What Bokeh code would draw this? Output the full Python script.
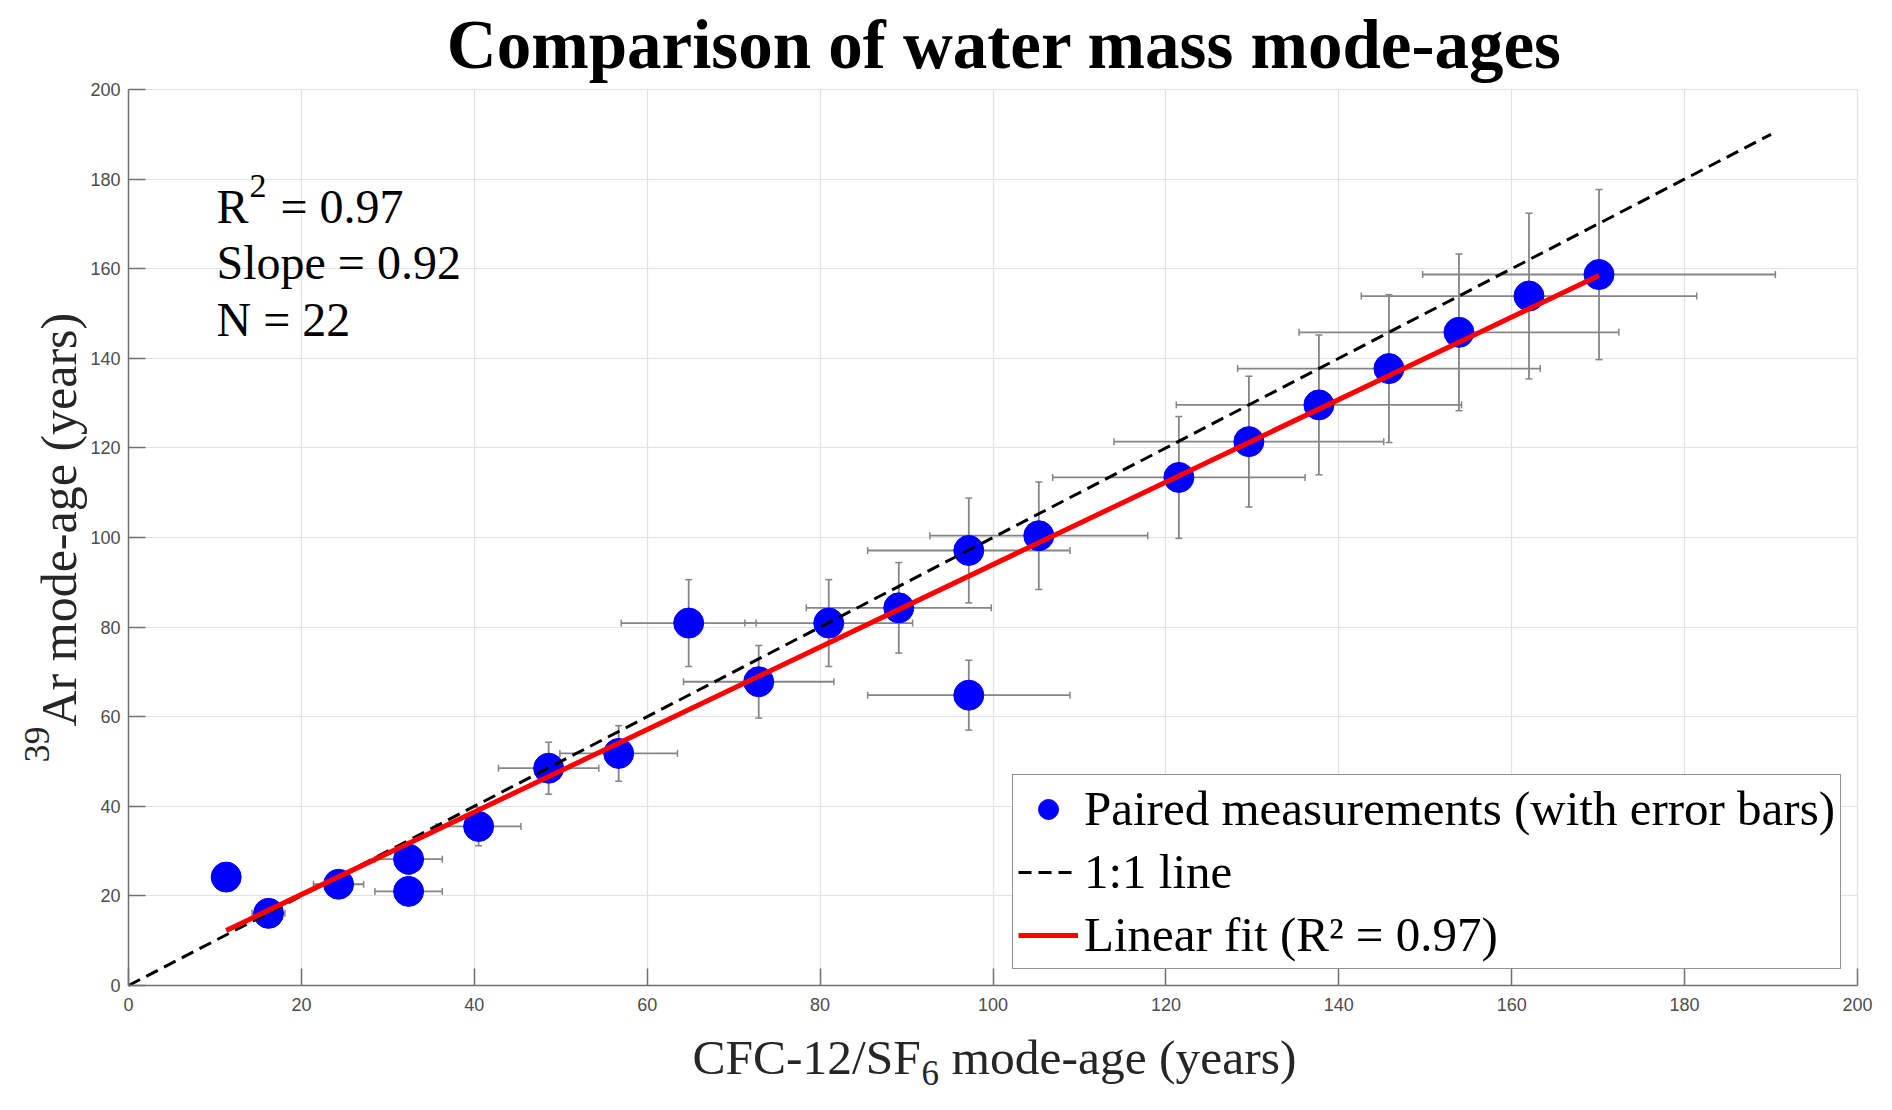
import math
from bokeh.plotting import figure
from bokeh.models import (ColumnDataSource, Range1d, FixedTicker, Whisker, TeeHead,
                          Label, Legend, LegendItem)
from bokeh.embed import file_html
from bokeh.resources import INLINE

# CFC-12/SF6 mode-age (years) and its error
cfc_age = [11.3, 16.2, 24.3, 32.4, 32.4, 40.5, 48.6, 56.7, 64.8, 72.9, 81.0,
           89.1, 97.2, 97.2, 105.3, 121.5, 129.6, 137.7, 145.8, 153.9, 162.0, 170.1]
cfc_err = [1.4, 1.9, 2.9, 3.9, 3.9, 4.9, 5.8, 6.8, 7.8, 8.7, 9.7,
           10.7, 11.7, 11.7, 12.6, 14.6, 15.6, 16.5, 17.5, 18.5, 19.4, 20.4]
# 39Ar mode-age (years) and its error
ar_age = [24.2, 16.1, 22.6, 28.2, 21.0, 35.5, 48.5, 51.8, 80.9, 67.8, 80.9,
          84.3, 97.1, 64.8, 100.4, 113.4, 121.4, 129.6, 137.7, 145.8, 153.9, 158.7]
ar_err = [2.9, 1.9, 2.7, 3.4, 2.5, 4.3, 5.8, 6.2, 9.7, 8.1, 9.7,
          10.1, 11.7, 7.8, 12.0, 13.6, 14.6, 15.6, 16.5, 17.5, 18.5, 19.0]

one_to_one = [0, 190]
fit_x = [11.3, 170.1]
fit_y = [12.3, 158.5]
r_squared = "0.97"
slope = "0.92"
n_points = "22"
ticks = [0, 20, 40, 60, 80, 100, 120, 140, 160, 180, 200]

W, H = 1876, 1094
# where the 0..200 box sits on the canvas (pixels); the frame is the whole canvas
AL, AR, AT, AB = 128, 1857, 89, 985
sx = (AR - AL) / 200.0
sy = (AB - AT) / 200.0


def xd(px):
    return (px - AL) / sx


def yd(py):
    return (AB - py) / sy


src = ColumnDataSource(dict(
    x=cfc_age, y=ar_age,
    xl=[a - e for a, e in zip(cfc_age, cfc_err)],
    xu=[a + e for a, e in zip(cfc_age, cfc_err)],
    yl=[a - e for a, e in zip(ar_age, ar_err)],
    yu=[a + e for a, e in zip(ar_age, ar_err)],
))

p = figure(width=W, height=H,
           x_range=Range1d(xd(0), xd(W)), y_range=Range1d(yd(H), yd(0)),
           output_backend="svg", toolbar_location=None,
           min_border_left=0, min_border_right=0, min_border_top=0, min_border_bottom=0)
p.outline_line_color = None

for ax in (p.xaxis, p.yaxis):
    ax.ticker = FixedTicker(ticks=ticks)
    ax.fixed_location = 0
    ax.bounds = (0, 200)
    ax.axis_line_color = "#707070"
    ax.axis_line_width = 1.5
    ax.major_tick_line_color = "#707070"
    ax.major_tick_line_width = 1.5
    ax.major_tick_in = 17
    ax.major_tick_out = 0
    ax.minor_tick_line_color = None
    ax.major_label_text_font = "Liberation Sans"
    ax.major_label_text_font_size = "18px"
    ax.major_label_text_color = "#4d4d4d"
p.xaxis.major_label_standoff = 12
p.yaxis.major_label_standoff = 8

p.grid.grid_line_color = "#e2e2e2"
p.grid.grid_line_width = 1.2
for g in (p.xgrid, p.ygrid):
    g.bounds = (0, 200)
    g.cross_bounds = (0, 200)

err_col = "#858585"
p.add_layout(Whisker(source=src, base="x", lower="yl", upper="yu", dimension="height",
                     line_color=err_col, line_width=1.8,
                     upper_head=TeeHead(size=7, line_color=err_col, line_width=1.5),
                     lower_head=TeeHead(size=7, line_color=err_col, line_width=1.5)))
p.add_layout(Whisker(source=src, base="y", lower="xl", upper="xu", dimension="width",
                     line_color=err_col, line_width=1.8,
                     upper_head=TeeHead(size=7, line_color=err_col, line_width=1.5),
                     lower_head=TeeHead(size=7, line_color=err_col, line_width=1.5)))

sc = p.scatter("x", "y", source=src, size=30, fill_color="#0000ff", line_color="#0000ff")
d = p.line(one_to_one, one_to_one, line_color="black", line_width=3, line_dash="13 7")
f = p.line(fit_x, fit_y, line_color="#ff0000", line_width=5)

leg = Legend(items=[
    LegendItem(label="Paired measurements (with error bars)", renderers=[sc]),
    LegendItem(label="1:1 line", renderers=[d]),
    LegendItem(label="Linear fit (R\u00b2 = " + r_squared + ")", renderers=[f]),
], location=(1012, H - 969))
leg.label_text_font = "Liberation Serif"
leg.label_text_font_size = "49px"
leg.label_text_color = "black"
leg.glyph_width = 60
leg.glyph_height = 50
leg.label_height = 50
leg.label_standoff = 6
leg.padding = 5
leg.spacing = 6
leg.margin = 0
leg.border_line_color = "#262626"
leg.border_line_width = 1.2
p.add_layout(leg)


def txt(s, px, py, size, bold=False, align="left", angle=0.0, color="black"):
    # bokeh sets the alphabetic anchor about a third of an em low; compensate
    k = 0.34 * size
    if angle == 0.0:
        py -= k
    else:
        px -= k
    p.add_layout(Label(x=xd(px), y=yd(py), text=s, text_font="Liberation Serif",
                       text_font_size=f"{size}px",
                       text_font_style="bold" if bold else "normal",
                       text_align=align, text_baseline="alphabetic",
                       angle=angle, text_color=color))


txt("Comparison of water mass mode-ages", 1004, 68, 69, bold=True, align="center")

txt("R", 216, 222, 48)
txt("2", 249, 197, 34)
txt("= " + r_squared, 280, 222, 48)
txt("Slope = " + slope, 216, 278, 48)
txt("N = " + n_points, 216, 335, 48)

lab = "#262626"
txt("CFC-12/SF", 692, 1074, 49.5, color=lab)
txt("6", 921, 1084, 35, color=lab)
txt("mode-age (years)", 951, 1074, 49.5, color=lab)

txt("39", 49, 762, 36, angle=math.pi / 2, color=lab)
txt("Ar mode-age (years)", 75, 726, 50, angle=math.pi / 2, color=lab)

open("out.html", "w").write(file_html(p, INLINE))
